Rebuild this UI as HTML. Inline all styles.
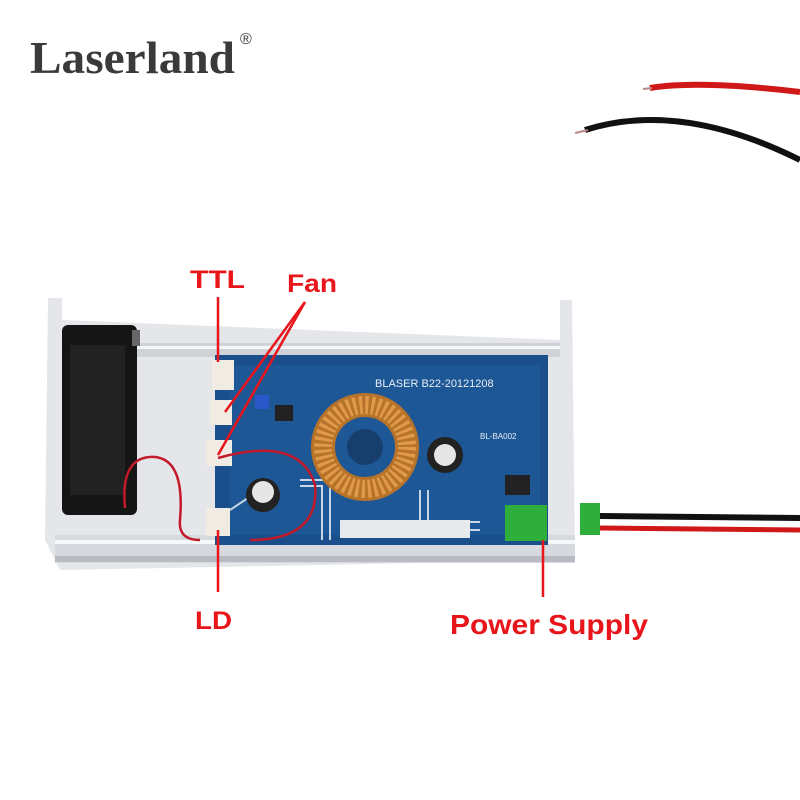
<!DOCTYPE html>
<html><head><style>
html,body{margin:0;padding:0;background:#fff;}
svg{display:block}
</style></head><body>
<svg width="800" height="800" viewBox="0 0 800 800" xmlns="http://www.w3.org/2000/svg" font-family="Liberation Sans, sans-serif">
<rect width="800" height="800" fill="#fff"/>
<!-- logo -->
<text x="30" y="73" style="font-family:'Liberation Serif',serif" font-weight="bold" font-size="46" fill="#3a3a3a" textLength="205" lengthAdjust="spacingAndGlyphs">Laserland</text>
<text x="240" y="44" font-size="16" fill="#3a3a3a">®</text>
<!-- top wires -->
<path d="M650 88 Q700 80 800 92" stroke="#d01818" stroke-width="6" fill="none"/>
<path d="M585 130 Q680 100 800 160" stroke="#111" stroke-width="6" fill="none"/>
<path d="M575 133 L588 130" stroke="#b88" stroke-width="2"/>
<path d="M643 89 L652 88" stroke="#b88" stroke-width="2"/>
<!-- chassis -->
<path d="M48 298 L62 298 L62 320 L560 340 L560 300 L572 300 L575 560 L60 570 L45 540 Z" fill="#e4e6e9"/>
<rect x="130" y="343" width="430" height="14" fill="#cfd3d8"/>
<rect x="130" y="346" width="430" height="3" fill="#f5f6f7"/>
<rect x="55" y="535" width="520" height="28" fill="#d6d9dd"/>
<rect x="55" y="540" width="520" height="4" fill="#f7f8f9"/>
<rect x="55" y="556" width="520" height="6" fill="#b8bcc2"/>
<!-- fan -->
<rect x="62" y="325" width="75" height="190" rx="6" fill="#151515"/>
<rect x="70" y="345" width="55" height="150" fill="#222"/>
<rect x="132" y="330" width="8" height="16" fill="#666"/>
<!-- board -->
<rect x="215" y="355" width="333" height="190" fill="#1a4f8c"/>
<rect x="230" y="365" width="310" height="170" fill="#1d5796"/>
<text x="375" y="387" font-size="11" fill="#e8eef6">BLASER B22-20121208</text>
<text x="480" y="439" font-size="8" fill="#e8eef6">BL-BA002</text>
<!-- traces -->
<g stroke="#c9d6e6" stroke-width="2" fill="none">
<path d="M300 480 L330 480 L330 540"/><path d="M300 486 L322 486 L322 540"/>
<path d="M420 490 L420 530 L480 530"/><path d="M428 490 L428 522 L480 522"/>
<path d="M230 510 L260 490"/>
</g>
<rect x="340" y="520" width="130" height="18" fill="#e7e9ec"/>
<!-- inductor -->
<circle cx="365" cy="447" r="42" fill="none" stroke="#b8732a" stroke-width="24"/>
<circle cx="365" cy="447" r="42" fill="none" stroke="#e09a4a" stroke-width="18" stroke-dasharray="3 3"/>
<circle cx="365" cy="447" r="18" fill="#173f6d"/>
<!-- capacitors -->
<circle cx="445" cy="455" r="18" fill="#222"/><circle cx="445" cy="455" r="11" fill="#e6e6e6"/>
<circle cx="263" cy="495" r="17" fill="#222"/><circle cx="263" cy="492" r="11" fill="#e6e6e6"/>
<rect x="255" y="395" width="14" height="14" fill="#2a58c8"/>
<rect x="275" y="405" width="18" height="16" fill="#222"/>
<rect x="505" y="475" width="25" height="20" fill="#222"/>
<!-- connectors -->
<rect x="212" y="360" width="22" height="30" fill="#f0ece4"/>
<rect x="210" y="400" width="22" height="25" fill="#f0ece4"/>
<rect x="206" y="440" width="26" height="26" fill="#f0ece4"/>
<rect x="206" y="508" width="24" height="28" fill="#f0ece4"/>
<!-- fan wires -->
<path d="M125 508 Q120 455 155 457 Q185 460 180 520 Q178 540 200 540" stroke="#c21a2a" stroke-width="2.5" fill="none"/>
<path d="M218 458 Q300 435 315 485 Q320 540 250 540" stroke="#c21a2a" stroke-width="2.5" fill="none"/>
<!-- green terminal -->
<rect x="505" y="505" width="42" height="36" fill="#2fae3c"/>
<rect x="580" y="503" width="20" height="32" fill="#2fae3c"/>
<path d="M600 516 L800 518" stroke="#111" stroke-width="6"/>
<path d="M600 528 L800 530" stroke="#d01818" stroke-width="5"/>
<!-- labels -->
<g fill="#e8151b" font-weight="bold">
<text x="190" y="288" font-size="25" textLength="55" lengthAdjust="spacingAndGlyphs">TTL</text>
<text x="287" y="292" font-size="25" textLength="50" lengthAdjust="spacingAndGlyphs">Fan</text>
<text x="195" y="629" font-size="25" textLength="37" lengthAdjust="spacingAndGlyphs">LD</text>
<text x="450" y="634" font-size="28" textLength="198" lengthAdjust="spacingAndGlyphs">Power Supply</text>
</g>
<g stroke="#e8151b" stroke-width="2.5" fill="none">
<path d="M218 297 L218 362"/>
<path d="M305 302 L225 412"/>
<path d="M305 302 L218 455"/>
<path d="M218 530 L218 592"/>
<path d="M543 540 L543 597"/>
</g>
</svg>
</body></html>
